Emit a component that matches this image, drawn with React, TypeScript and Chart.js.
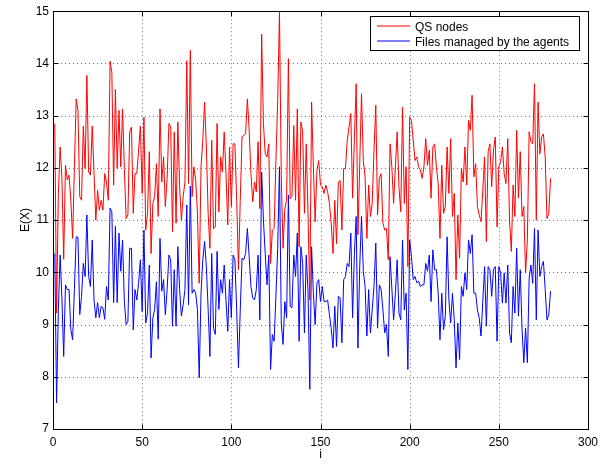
import React, { useEffect, useRef } from "react";
import { Chart, registerables } from "chart.js";

Chart.register(...registerables);

const seriesLabels = ["QS nodes", "Files managed by the agents"];
const seriesColors = ["#ff0000", "#0000ff"];

const qsNodes = [
  12.85, 9.22, 11.5, 12.4, 11.8, 10.25, 12.05, 11.77, 11.86, 11.38,
  10.65, 12.0, 13.32, 13.1, 11.45, 11.38, 12.8, 11.99, 13.77, 11.92,
  11.86, 12.8, 11.9, 11.0, 11.57, 11.19, 11.38, 11.19, 11.89, 11.73,
  11.38, 14.04, 13.83, 11.67, 13.5, 11.99, 13.1, 12.02, 13.13, 11.99,
  11.03, 11.1, 12.69, 12.78, 11.13, 11.89, 11.89, 12.34, 12.8, 11.51,
  12.97, 10.81, 11.13, 12.31, 10.36, 11.32, 11.45, 12.08, 11.07, 13.13,
  11.73, 12.21, 11.26, 11.8, 12.85, 12.78, 10.78, 12.69, 10.94, 12.88,
  11.64, 11.0, 11.45, 11.73, 14.05, 11.7, 14.25, 11.45, 12.02, 11.77,
  11.13, 9.79, 12.02, 12.53, 13.26, 12.4, 11.13, 10.46, 12.53, 10.84,
  10.87, 12.85, 11.16, 12.21, 11.92, 12.69, 11.89, 10.91, 12.4, 11.26,
  12.46, 12.46, 11.38, 10.05, 11.38, 12.6, 12.62, 12.66, 13.32, 12.72,
  11.89, 11.35, 11.73, 11.54, 12.5, 11.22, 14.56, 12.85, 12.27, 12.21,
  12.46, 10.17, 10.81, 10.84, 12.14, 13.29, 14.98, 11.83, 10.46, 11.22,
  11.38, 14.09, 11.41, 11.45, 12.81, 11.38, 13.13, 10.49, 12.88, 12.69,
  11.13, 12.46, 11.13, 9.47, 13.26, 12.02, 10.97, 11.95, 12.14, 11.67,
  11.64, 11.51, 11.67, 11.54, 11.32, 10.94, 10.36, 11.38, 10.55, 11.73,
  11.76, 10.81, 11.99, 11.99, 12.53, 12.78, 13.04, 11.42, 12.56, 13.61,
  10.72, 12.08, 13.42, 12.14, 11.83, 10.65, 11.67, 11.07, 11.32, 12.34,
  13.2, 11.1, 11.8, 11.89, 10.94, 10.81, 10.84, 10.24, 12.46, 12.02,
  11.32, 12.02, 12.69, 11.64, 11.16, 13.16, 11.32, 12.02, 10.11, 12.97,
  12.91, 12.53, 12.14, 12.21, 12.02, 11.96, 11.8, 12.02, 12.56, 12.05,
  12.34, 11.42, 12.4, 12.46, 12.02, 11.7, 10.65, 12.05, 11.13, 11.26,
  12.4, 11.51, 12.56, 11.07, 11.51, 9.86, 11.1, 10.27, 11.99, 11.73,
  12.4, 11.67, 12.91, 12.72, 13.39, 11.83, 12.08, 11.26, 11.1, 10.97,
  11.57, 12.21, 10.59, 12.31, 12.46, 11.64, 12.34, 12.59, 10.87, 12.02,
  12.11, 12.4, 11.89, 11.7, 12.56, 11.0, 10.4, 11.67, 11.07, 12.72,
  11.42, 12.31, 11.07, 11.26, 9.99, 10.62, 12.69, 12.5, 12.46, 13.61,
  11.0, 13.26, 12.27, 12.59, 12.65, 12.21, 11.03, 11.13, 11.8,
];

const filesManaged = [
  10.36, 7.5, 9.29, 10.33, 9.5, 8.39, 9.76, 9.67, 9.67, 8.9,
  8.71, 9.67, 10.68, 10.67, 9.19, 9.54, 10.17, 9.92, 11.1, 9.92,
  9.73, 10.62, 9.47, 9.13, 9.42, 9.13, 9.35, 9.32, 9.1, 9.73,
  9.47, 11.23, 11.16, 9.42, 10.88, 9.42, 10.75, 10.02, 10.62, 9.45,
  9.0, 9.06, 10.46, 10.46, 8.9, 9.67, 9.47, 9.8, 10.24, 9.25,
  10.81, 9.03, 9.22, 10.14, 8.36, 9.13, 9.29, 9.82, 8.72, 10.65,
  9.64, 9.86, 9.19, 9.67, 10.33, 10.24, 8.97, 10.05, 8.97, 10.49,
  9.67, 9.16, 9.38, 9.67, 11.29, 9.38, 11.65, 9.6, 9.67, 9.6,
  9.29, 7.98, 9.6, 10.24, 10.59, 10.11, 9.29, 8.39, 10.36, 8.93,
  8.81, 10.4, 9.29, 9.86, 9.6, 10.14, 9.47, 8.87, 9.86, 9.13,
  10.33, 10.24, 9.28, 8.17, 9.28, 10.27, 10.24, 10.36, 10.84, 10.3,
  9.73, 9.51, 9.47, 9.67, 10.33, 9.09, 11.92, 11.0, 10.36, 9.76,
  10.33, 8.14, 8.81, 8.68, 9.54, 10.46, 12.02, 9.03, 8.62, 9.44,
  9.13, 11.48, 9.35, 9.32, 10.33, 9.92, 10.75, 8.68, 10.49, 10.17,
  8.84, 10.33, 9.64, 7.76, 10.49, 9.6, 9.0, 9.79, 9.86, 9.44,
  9.73, 9.44, 9.44, 9.47, 9.19, 8.93, 8.55, 9.35, 8.58, 9.54,
  9.51, 8.65, 9.86, 9.92, 10.17, 10.11, 10.75, 9.13, 10.36, 11.07,
  8.55, 10.11, 11.07, 10.02, 9.73, 8.78, 9.67, 8.84, 9.28, 9.73,
  10.56, 8.93, 9.76, 9.67, 9.28, 8.84, 9.0, 8.39, 10.3, 9.7,
  9.09, 9.6, 10.24, 9.22, 9.09, 10.62, 9.28, 9.6, 8.14, 10.62,
  10.3, 9.86, 9.92, 9.8, 9.83, 9.73, 9.76, 9.76, 10.17, 10.02,
  10.33, 9.44, 10.43, 10.05, 10.05, 9.6, 8.71, 9.6, 8.9, 9.16,
  10.68, 9.47, 9.03, 9.6, 9.09, 8.17, 9.03, 8.33, 9.73, 9.54,
  9.99, 9.67, 10.62, 10.36, 10.72, 9.6, 9.6, 9.28, 9.13, 8.78,
  9.44, 10.11, 8.97, 10.11, 10.05, 9.54, 10.05, 10.11, 8.68, 10.11,
  9.99, 9.41, 9.99, 9.41, 10.14, 8.84, 8.65, 9.73, 9.22, 10.46,
  9.16, 10.05, 8.93, 8.27, 8.93, 8.27, 9.89, 10.14, 9.79, 10.84,
  9.09, 10.81, 9.92, 10.11, 10.21, 9.67, 9.09, 9.19, 9.64,
];

const xTicks = [0, 50, 100, 150, 200, 250, 300];
const yTicks = [7, 8, 9, 10, 11, 12, 13, 14, 15];
const xTitle = "i";
const yTitle = "E(X)";

const FONT = '"Liberation Sans", Arial, Helvetica, sans-serif';

const matlabFrame = {
  id: "matlabFrame",
  beforeDatasetsDraw(chart: any) {
    const { ctx, chartArea: a, scales } = chart;
    ctx.save();
    ctx.strokeStyle = "#7a7a7a";
    ctx.lineWidth = 1;
    ctx.setLineDash([1, 3]);
    for (const v of xTicks) {
      const x = Math.round(scales.x.getPixelForValue(v)) + 0.5;
      if (x <= a.left + 1 || x >= a.right - 1) continue;
      ctx.beginPath();
      ctx.moveTo(x, a.top);
      ctx.lineTo(x, a.bottom);
      ctx.stroke();
    }
    for (const v of yTicks) {
      const y = Math.round(scales.y.getPixelForValue(v)) + 0.5;
      if (y <= a.top + 1 || y >= a.bottom - 1) continue;
      ctx.beginPath();
      ctx.moveTo(a.left, y);
      ctx.lineTo(a.right, y);
      ctx.stroke();
    }
    ctx.restore();
  },
  afterDatasetsDraw(chart: any) {
    const { ctx, chartArea: a, scales } = chart;
    const L = Math.round(a.left) + 0.5;
    const R = Math.round(a.right) + 0.5;
    const T = Math.round(a.top) + 0.5;
    const B = Math.round(a.bottom) + 0.5;
    ctx.save();
    ctx.strokeStyle = "#000";
    ctx.lineWidth = 1;
    ctx.setLineDash([]);
    ctx.strokeRect(L, T, R - L, B - T);
    const tl = 5;
    ctx.beginPath();
    for (const v of xTicks) {
      const x = Math.round(scales.x.getPixelForValue(v)) + 0.5;
      ctx.moveTo(x, B);
      ctx.lineTo(x, B - tl);
      ctx.moveTo(x, T);
      ctx.lineTo(x, T + tl);
    }
    for (const v of yTicks) {
      const y = Math.round(scales.y.getPixelForValue(v)) + 0.5;
      ctx.moveTo(L, y);
      ctx.lineTo(L + tl, y);
      ctx.moveTo(R, y);
      ctx.lineTo(R - tl, y);
    }
    ctx.stroke();
    ctx.restore();
  },
  afterDraw(chart: any) {
    const { ctx } = chart;
    const bx = 370.5, by = 16.5, bw = 209, bh = 34;
    ctx.save();
    ctx.fillStyle = "#fff";
    ctx.fillRect(bx, by, bw, bh);
    ctx.strokeStyle = "#000";
    ctx.lineWidth = 1;
    ctx.strokeRect(bx, by, bw, bh);
    ctx.font = `12px ${FONT}`;
    ctx.textBaseline = "alphabetic";
    ctx.textAlign = "left";
    chart.data.datasets.forEach((ds: any, i: number) => {
      const yLine = 26 + i * 15;
      ctx.strokeStyle = ds.borderColor;
      ctx.beginPath();
      ctx.moveTo(377, yLine);
      ctx.lineTo(410, yLine);
      ctx.stroke();
      ctx.fillStyle = "#000";
      ctx.fillText(ds.label, 415, yLine + 4.5);
    });
    ctx.restore();
  },
};

export default function App() {
  const ref = useRef<HTMLCanvasElement | null>(null);
  useEffect(() => {
    if (!ref.current) return;
    const toPoints = (arr: number[]) => arr.map((v, i) => ({ x: i + 1, y: v }));
    const chart = new Chart(ref.current, {
      type: "line",
      data: {
        datasets: [
          {
            label: seriesLabels[0],
            data: toPoints(qsNodes),
            borderColor: seriesColors[0],
            borderWidth: 1,
            pointRadius: 0,
            tension: 0,
            fill: false,
          },
          {
            label: seriesLabels[1],
            data: toPoints(filesManaged),
            borderColor: seriesColors[1],
            borderWidth: 1,
            pointRadius: 0,
            tension: 0,
            fill: false,
          },
        ],
      },
      options: {
        animation: false,
        responsive: false,
        devicePixelRatio: 1,
        layout: { padding: { top: 10, right: 22, left: 0, bottom: 0 } },
        plugins: { legend: { display: false }, tooltip: { enabled: false } },
        scales: {
          x: {
            type: "linear",
            min: 0,
            max: 300,
            afterFit: (s: any) => {
              s.height = 37;
            },
            afterBuildTicks: (s: any) => {
              s.ticks = xTicks.map((v) => ({ value: v }));
            },
            grid: { display: false, drawTicks: false },
            border: { display: false },
            ticks: { font: { size: 12, family: FONT }, color: "#000", padding: 6, maxRotation: 0 },
            title: {
              display: true,
              text: xTitle,
              font: { size: 12, family: FONT },
              color: "#000",
              padding: { top: 0, bottom: 4 },
            },
          },
          y: {
            type: "linear",
            min: 7,
            max: 15,
            afterFit: (s: any) => {
              s.width = 53;
            },
            afterBuildTicks: (s: any) => {
              s.ticks = yTicks.map((v) => ({ value: v }));
            },
            grid: { display: false, drawTicks: false },
            border: { display: false },
            ticks: { font: { size: 12, family: FONT }, color: "#000", padding: 4 },
            title: {
              display: true,
              text: yTitle,
              font: { size: 12, family: FONT },
              color: "#000",
              padding: { top: 18, bottom: 0 },
            },
          },
        },
      },
      plugins: [matlabFrame],
    } as any);
    return () => chart.destroy();
  }, []);
  return (
    <div style={{ position: "fixed", left: 0, top: 0, width: 610, height: 466, background: "#fff" }}>
      <canvas ref={ref} width={610} height={466} style={{ width: 610, height: 466, display: "block" }} />
    </div>
  );
}
